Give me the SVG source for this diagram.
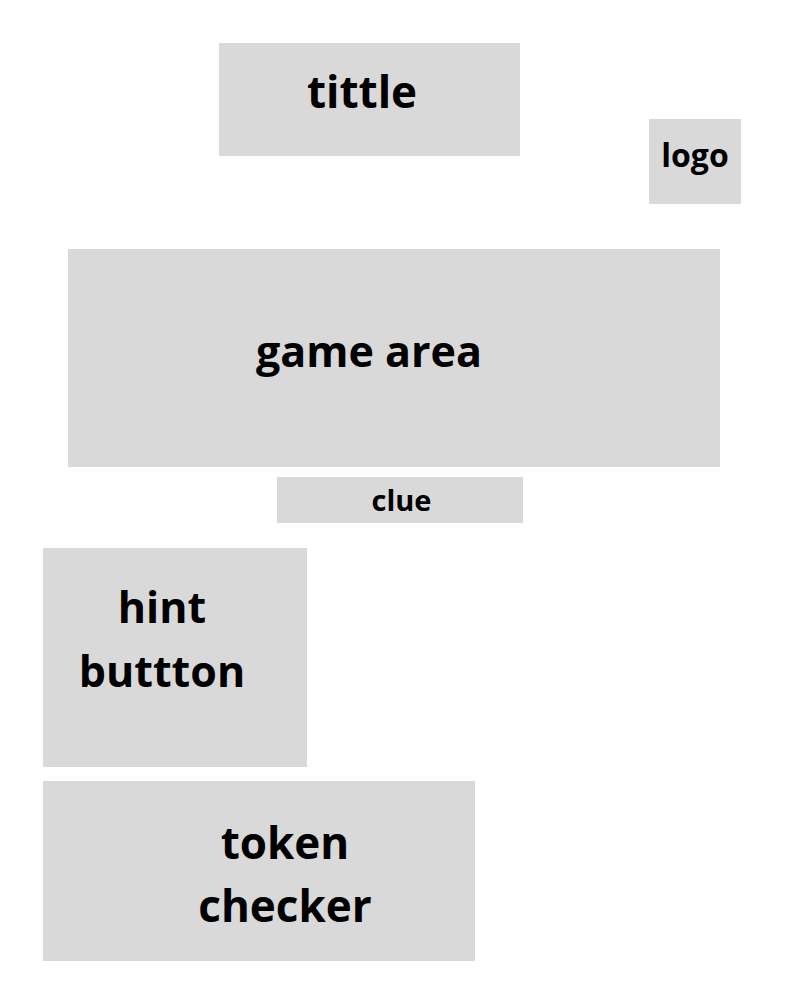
<svg xmlns="http://www.w3.org/2000/svg" width="800" height="1000" viewBox="0 0 800 1000">
<style>
.box{fill:#d9d9d9;}
.lbl{font-family:"Open Sans","Noto Sans","Liberation Sans",sans-serif;font-weight:700;fill:#000;text-anchor:middle;}
</style>
<rect width="800" height="1000" fill="#ffffff"/>
<g id="tittle"><rect class="box" x="219" y="43" width="301" height="113"/><text class="lbl" x="362" y="108" font-size="44">tittle</text></g>
<g id="logo"><rect class="box" x="649" y="119" width="92" height="85"/><text class="lbl" x="695" y="167" font-size="32">logo</text></g>
<g id="game-area"><rect class="box" x="68" y="249" width="652" height="218"/><text class="lbl" x="369" y="367" font-size="43">game area</text></g>
<g id="clue"><rect class="box" x="277" y="477" width="246" height="46"/><text class="lbl" x="401.5" y="511" font-size="29">clue</text></g>
<g id="hint-button"><rect class="box" x="43" y="548" width="264" height="219"/><text class="lbl" font-size="43"><tspan x="162" y="623">hint</tspan><tspan x="162" y="687">buttton</tspan></text></g>
<g id="token-checker"><rect class="box" x="43" y="781" width="432" height="180"/><text class="lbl" font-size="44"><tspan x="285" y="859">token</tspan><tspan x="285" y="922">checker</tspan></text></g>
<g id="connectors"></g>
</svg>
